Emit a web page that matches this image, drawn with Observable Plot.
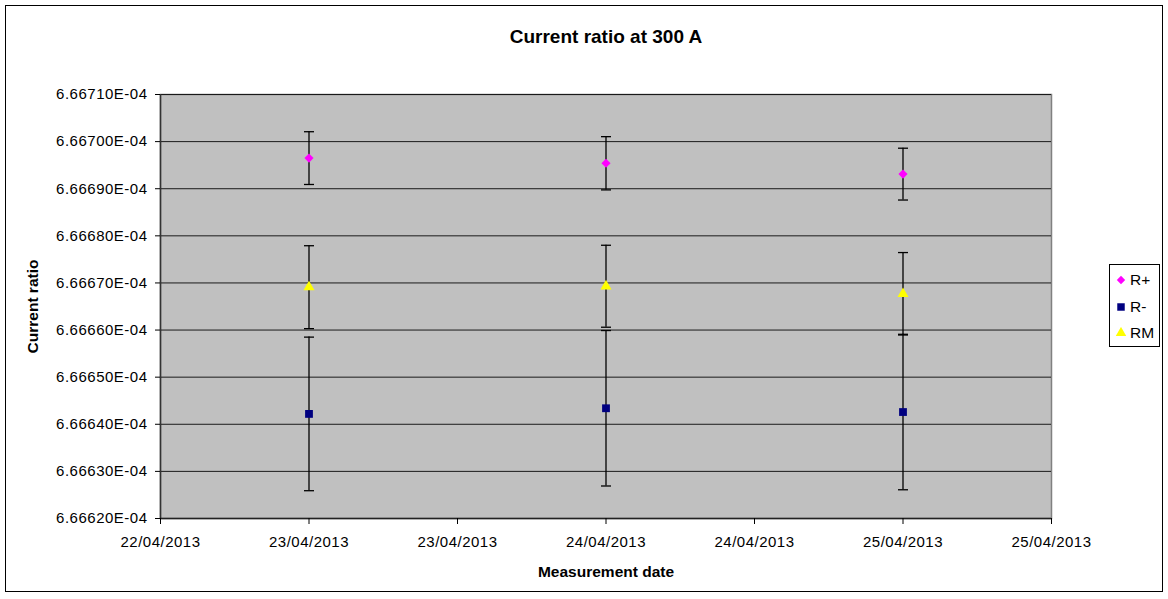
<!DOCTYPE html>
<html>
<head>
<meta charset="utf-8">
<script src="https://cdn.jsdelivr.net/npm/d3@7"></script>
<script src="https://cdn.jsdelivr.net/npm/@observablehq/plot@0.6"></script>
<style>
  html, body { margin: 0; padding: 0; background: #fff; }
  #wrap { position: relative; width: 1168px; height: 599px; font-family: "Liberation Sans", Arial, sans-serif; }
  #border { position: absolute; left: 5px; top: 5px; width: 1158px; height: 587px; border: 1.5px solid #000; box-sizing: border-box; pointer-events: none; }
  #chart { position: absolute; left: 0; top: 0; }
  #chart svg { overflow: visible; }
  g[aria-label="y-axis tick label"] text, g[aria-label="x-axis tick label"] text { letter-spacing: 0.5px; }
  g[aria-label="chart title"] text { letter-spacing: 0.5px; }
  g[aria-label="axis title"] text { letter-spacing: 0.7px; }
  #legend { position: absolute; left: 1109px; top: 264px; width: 51px; height: 83px; border: 1px solid #000; background: #fff; box-sizing: border-box; }
  .item { position: absolute; left: 0; height: 20px; display: flex; align-items: center; font-size: 15.5px; color: #000; }
  .item svg { margin-left: 5px; margin-right: 3px; }
</style>
</head>
<body>
<div id="wrap">
  <div id="chart"></div>
  <div id="legend"></div>
  <div id="border"></div>
</div>
<script>
// ---- data ----
const categories = ["2013-04-23", "2013-04-24", "2013-04-25"];
const seriesNames = ["R+", "R-", "RM"];
const seriesColors = ["#FF00FF", "#000080", "#FFFF00"];
const seriesSymbols = ["diamond2", "square", "triangle"];
const rPlus = [6.666965e-4, 6.666954e-4, 6.666931e-4];
const rPlusErr = [5.6e-9, 5.65e-9, 5.5e-9];
const rMinus = [6.666422e-4, 6.666434e-4, 6.666426e-4];
const rMinusErr = [1.63e-8, 1.65e-8, 1.65e-8];
const rM = [6.666691e-4, 6.666693e-4, 6.666677e-4];
const rMErr = [8.8e-9, 8.7e-9, 8.75e-9];
const yTicks = [6.6662e-4, 6.6663e-4, 6.6664e-4, 6.6665e-4, 6.6666e-4, 6.6667e-4, 6.6668e-4, 6.6669e-4, 6.6670e-4, 6.6671e-4];
const xTickTimes = ["2013-04-22T12:00Z", "2013-04-23T00:00Z", "2013-04-23T12:00Z", "2013-04-24T00:00Z", "2013-04-24T12:00Z", "2013-04-25T00:00Z", "2013-04-25T12:00Z"];

// ---- build table ----
const values = [rPlus, rMinus, rM];
const errors = [rPlusErr, rMinusErr, rMErr];
const rows = [];
seriesNames.forEach((s, i) => {
  categories.forEach((c, j) => {
    rows.push({series: s, date: new Date(c + "T00:00Z"), value: values[i][j], err: errors[i][j], idx: i});
  });
});
const xTicks = xTickTimes.map(t => new Date(t));
const fmtDate = d3.utcFormat("%d/%m/%Y");
const fmtY = v => {
  const [m, e] = v.toExponential(5).split("e");
  const n = +e;
  return m + "E" + (n < 0 ? "-" : "+") + String(Math.abs(n)).padStart(2, "0");
};

const cap = {
  draw(ctx, size) {
    const w = Math.sqrt(size / Math.PI);
    ctx.moveTo(-w, 0);
    ctx.lineTo(w, 0);
  }
};

const marks = [
  Plot.frame({fill: "#C0C0C0", stroke: "#808080", strokeWidth: 1.5}),
  Plot.ruleY(yTicks.slice(1), {stroke: "#1a1a1a", strokeWidth: 1}),
  Plot.ruleX([xTicks[0]], {stroke: "#333", strokeWidth: 1.5}),
  Plot.ruleY([yTicks[0]], {stroke: "#222", strokeWidth: 1.5}),
  Plot.axisY({ticks: yTicks, tickFormat: fmtY, tickSize: 5, tickPadding: 8, fontSize: 15, label: null, stroke: "#000"}),
  Plot.axisX({ticks: xTicks, tickFormat: fmtDate, tickSize: 6, tickPadding: 12, fontSize: 15, label: null, stroke: "#000"}),
  Plot.ruleX(rows, {x: "date", y1: d => d.value - d.err, y2: d => d.value + d.err, stroke: "#000", strokeWidth: 1.3}),
  Plot.dot(rows, {x: "date", y: d => d.value + d.err, symbol: cap, r: 5, stroke: "#000", fill: "none", strokeWidth: 1.3}),
  Plot.dot(rows, {x: "date", y: d => d.value - d.err, symbol: cap, r: 5, stroke: "#000", fill: "none", strokeWidth: 1.3})
];
seriesNames.forEach((s, i) => {
  const r = seriesSymbols[i] === "diamond2" ? 4.1 : seriesSymbols[i] === "square" ? 4.4 : 4.1;
  marks.push(Plot.dot(rows.filter(d => d.series === s), {
    x: "date", y: "value", symbol: seriesSymbols[i], r, fill: seriesColors[i], stroke: "none"
  }));
});
marks.push(
  Plot.text(["Current ratio at 300 A"], {frameAnchor: "top", lineAnchor: "middle", textAnchor: "middle", dy: -58, fontSize: 19, fontWeight: "bold", fill: "#000", ariaLabel: "chart title"}),
  Plot.text(["Measurement date"], {frameAnchor: "bottom", lineAnchor: "middle", textAnchor: "middle", dy: 54, fontSize: 15.5, fontWeight: "bold", fill: "#000", ariaLabel: "axis title"}),
  Plot.text(["Current ratio"], {frameAnchor: "left", lineAnchor: "middle", textAnchor: "middle", dx: -127, rotate: -90, fontSize: 15.5, fontWeight: "bold", fill: "#000", ariaLabel: "axis title"})
);

const chart = Plot.plot({
  width: 1168,
  height: 599,
  marginLeft: 160,
  marginRight: 117,
  marginTop: 94,
  marginBottom: 81,
  style: {fontFamily: "'Liberation Sans', Arial, sans-serif", fontSize: "15px", color: "#000", background: "transparent"},
  x: {type: "utc", domain: [xTicks[0], xTicks[xTicks.length - 1]]},
  y: {domain: [yTicks[0], yTicks[yTicks.length - 1]]},
  marks
});
document.getElementById("chart").appendChild(chart);

// ---- legend ----
const legend = document.getElementById("legend");
const rowTops = [5, 32, 58];
seriesNames.forEach((s, i) => {
  const item = document.createElement("div");
  item.className = "item";
  item.style.top = rowTops[i] + "px";
  const sym = d3.symbol(i === 0 ? d3.symbolDiamond2 : i === 1 ? d3.symbolSquare : d3.symbolTriangle, i === 0 ? 45 : i === 1 ? 56 : 48)();
  item.innerHTML = `<svg width="12" height="12" viewBox="-6 -6 12 12"><path d="${sym}" fill="${seriesColors[i]}"></path></svg><span>${s}</span>`;
  legend.appendChild(item);
});
</script>
</body>
</html>
